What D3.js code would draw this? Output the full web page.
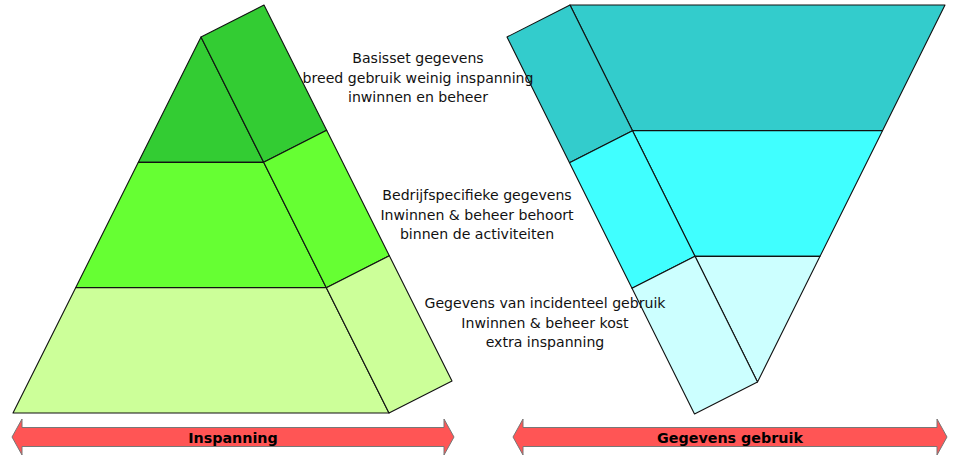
<!DOCTYPE html>
<html><head><meta charset="utf-8">
<script src="https://cdn.jsdelivr.net/npm/d3@7"></script>
<style>html,body{margin:0;padding:0;background:#fff;}svg{display:block;}</style>
</head><body>
<svg id="chart" width="953" height="456"></svg>
<script>
// ---- data ----
const tiers = [0, 1, 2];
const leftColors = ["#33CC33", "#66FF33", "#CCFF99"];
const rightColors = ["#33CCCC", "#40FFFF", "#CCFFFF"];
const labelTop = ["Basisset gegevens", "breed gebruik weinig inspanning", "inwinnen en beheer"];
const labelMid = ["Bedrijfspecifieke gegevens", "Inwinnen & beheer behoort", "binnen de activiteiten"];
const labelBot = ["Gegevens van incidenteel gebruik", "Inwinnen & beheer kost", "extra inspanning"];
const arrowLabels = ["Inspanning", "Gegevens gebruik"];

const svg = d3.select("#chart");
const line = d3.line();

// Left pyramid
const lY = d3.scaleLinear().domain([0, 3]).range([37, 413]);
const lW = d3.scaleLinear().domain([0, 3]).range([0, 188]);
const lCx = 201, ldx = 63, ldy = -32;
const gL = svg.append("g");
tiers.forEach(i => {
  const y0 = lY(i), y1 = lY(i + 1);
  const front = [[lCx - lW(i), y0], [lCx + lW(i), y0], [lCx + lW(i + 1), y1], [lCx - lW(i + 1), y1]];
  const side = [[lCx + lW(i), y0], [lCx + lW(i) + ldx, y0 + ldy], [lCx + lW(i + 1) + ldx, y1 + ldy], [lCx + lW(i + 1), y1]];
  gL.append("path").attr("d", line(front) + "Z").attr("fill", leftColors[i]).attr("stroke", "#111").attr("stroke-width", 1.1).attr("stroke-linejoin", "round");
  gL.append("path").attr("d", line(side) + "Z").attr("fill", leftColors[i]).attr("stroke", "#111").attr("stroke-width", 1.1).attr("stroke-linejoin", "round");
});

// Right inverted pyramid
const rY = d3.scaleLinear().domain([0, 3]).range([5, 382]);
const rW = d3.scaleLinear().domain([0, 3]).range([187.5, 0]);
const rCx = 757.5, rdx = -63, rdy = 32;
const gR = svg.append("g");
tiers.forEach(i => {
  const y0 = rY(i), y1 = rY(i + 1);
  const front = [[rCx - rW(i), y0], [rCx + rW(i), y0], [rCx + rW(i + 1), y1], [rCx - rW(i + 1), y1]];
  const side = [[rCx - rW(i), y0], [rCx - rW(i) + rdx, y0 + rdy], [rCx - rW(i + 1) + rdx, y1 + rdy], [rCx - rW(i + 1), y1]];
  gR.append("path").attr("d", line(front) + "Z").attr("fill", rightColors[i]).attr("stroke", "#111").attr("stroke-width", 1.1).attr("stroke-linejoin", "round");
  gR.append("path").attr("d", line(side) + "Z").attr("fill", rightColors[i]).attr("stroke", "#111").attr("stroke-width", 1.1).attr("stroke-linejoin", "round");
});

// Labels
function block(lines, cx, y0) {
  const t = svg.append("text").attr("text-anchor", "middle")
    .attr("font-family", "DejaVu Sans, Verdana, sans-serif").attr("font-size", 14.1).attr("fill", "#111");
  lines.forEach((s, k) => t.append("tspan").attr("x", cx).attr("y", y0 + k * 19.5).text(s));
}
block(labelTop, 418, 63);
block(labelMid, 477, 200);
block(labelBot, 545, 308);

// Arrows
function arrow(x0, x1, label) {
  const cy = 437, h = 10, hh = 18, sh = 9.5;
  const pts = [[x0, cy], [x0 + h, cy - hh], [x0 + h, cy - sh], [x1 - h, cy - sh], [x1 - h, cy - hh], [x1, cy],
               [x1 - h, cy + hh], [x1 - h, cy + sh], [x0 + h, cy + sh], [x0 + h, cy + hh]];
  svg.append("path").attr("d", line(pts) + "Z").attr("fill", "#FF5555").attr("stroke", "#777").attr("stroke-width", 1);
  svg.append("text").attr("x", (x0 + x1) / 2).attr("y", cy + 5.5)
    .attr("text-anchor", "middle").attr("font-family", "DejaVu Sans, Verdana, sans-serif")
    .attr("font-weight", "bold").attr("font-size", 14.3).attr("fill", "#000").text(label);
}
arrow(12, 454, arrowLabels[0]);
arrow(513, 947, arrowLabels[1]);
</script>
</body></html>
